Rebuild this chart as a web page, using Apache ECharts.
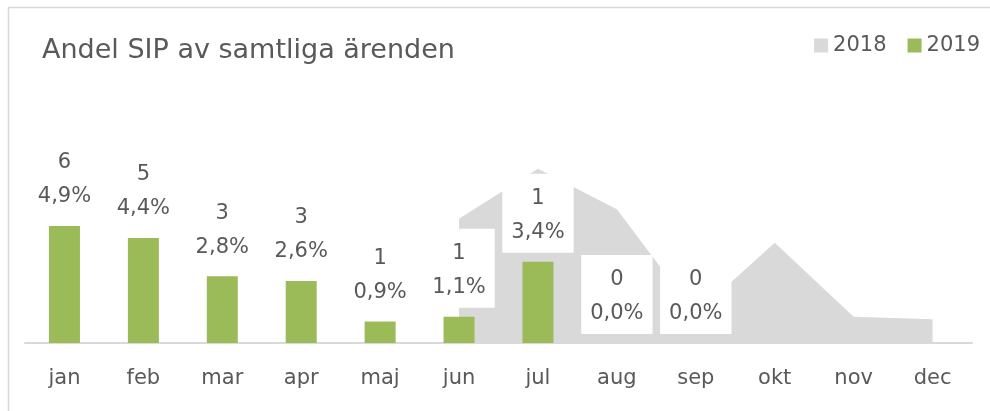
<!DOCTYPE html>
<html>
<head>
<meta charset="utf-8">
<script src="https://cdn.jsdelivr.net/npm/echarts@6/dist/echarts.min.js"></script>
<style>
  html, body { margin: 0; padding: 0; background: #fff; }
  #chart { width: 990px; height: 411px; }
</style>
</head>
<body>
<div id="chart"></div>
<script>
// månader
var months = ['jan', 'feb', 'mar', 'apr', 'maj', 'jun', 'jul', 'aug', 'sep', 'okt', 'nov', 'dec'];
// 2019: andel i procent + antal SIP
var pct2019 = [4.9, 4.4, 2.8, 2.6, 0.9, 1.1, 3.4, 0, 0, null, null, null];
var count2019 = [6, 5, 3, 3, 1, 1, 1, 0, 0, null, null, null];
// 2018: andel i procent (bara jun-dec)
var pct2018 = [null, null, null, null, null, 5.2, 7.3, 5.6, 1.2, 4.2, 1.1, 1.0];

var txt = '#595959';
var fontFam = '"DejaVu Sans", sans-serif';

var chart = echarts.init(document.getElementById('chart'));
var option = {
  backgroundColor: '#fff',
  animation: false,
  title: {
    text: 'Andel SIP av samtliga ärenden',
    left: 37,
    top: 32,
    textStyle: { color: txt, fontSize: 27, fontWeight: 'normal', fontFamily: fontFam }
  },
  legend: {
    right: 5,
    top: 30,
    itemWidth: 14,
    itemHeight: 14,
    itemGap: 21,
    textStyle: { color: txt, fontSize: 21, fontFamily: fontFam },
    data: [{ name: '2018', icon: 'rect' }, { name: '2019', icon: 'rect' }]
  },
  graphic: [{
    type: 'rect',
    shape: { x: 8.5, y: 7.5, width: 1000, height: 500 },
    style: { fill: 'none', stroke: '#d9d9d9', lineWidth: 1.5 },
    silent: true
  }],
  grid: { left: 25, right: 18, top: 152, bottom: 68 },
  xAxis: {
    type: 'category',
    data: months,
    axisLine: { lineStyle: { color: '#d9d9d9', width: 2 } },
    axisTick: { show: false },
    axisLabel: { color: txt, fontSize: 21, fontFamily: fontFam, margin: 25 }
  },
  yAxis: {
    type: 'value',
    min: 0,
    max: 8,
    show: false,
    splitLine: { show: false }
  },
  series: [
    {
      name: '2018',
      type: 'line',
      data: pct2018,
      symbol: 'none',
      lineStyle: { width: 0 },
      itemStyle: { color: '#d9d9d9' },
      areaStyle: { color: '#d9d9d9', opacity: 1 },
      z: 1
    },
    {
      name: '2019',
      type: 'bar',
      data: pct2019,
      barWidth: 31,
      itemStyle: { color: '#9bbb59' },
      z: 3,
      label: {
        show: true,
        position: 'top',
        distance: 9,
        color: txt,
        fontSize: 21,
        fontFamily: fontFam,
        lineHeight: 34,
        backgroundColor: '#fff',
        padding: [8, 9, 3, 9],
        formatter: function (p) {
          return count2019[p.dataIndex] + '\n' + p.value.toFixed(1).replace('.', ',') + '%';
        }
      }
    }
  ]
};
chart.setOption(option);
</script>
</body>
</html>
